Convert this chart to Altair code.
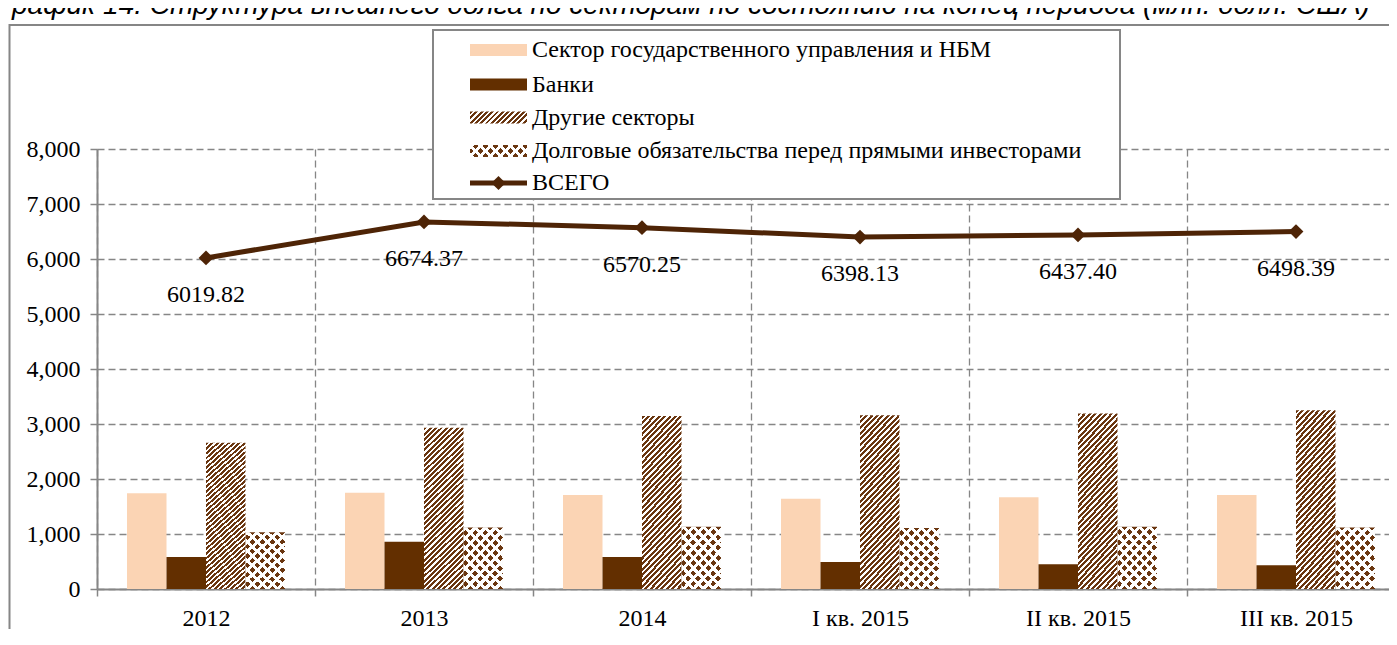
import altair as alt
import pandas as pd

# ---------------- data ----------------
categories = ["2012", "2013", "2014", "I кв. 2015", "II кв. 2015", "III кв. 2015"]
series = [
    "Сектор государственного управления и НБМ",
    "Банки",
    "Другие секторы",
    "Долговые обязательства перед прямыми инвесторами",
]
gov_nbm = [1740, 1750, 1710, 1640, 1670, 1710]
banks = [580, 860, 580, 490, 450, 430]
other_sectors = [2660, 2930, 3145, 3160, 3190, 3250]
fdi_debt = [1030, 1120, 1130, 1110, 1130, 1120]
total = [6019.82, 6674.37, 6570.25, 6398.13, 6437.40, 6498.39]
total_name = "ВСЕГО"
y_ticks = [0, 1000, 2000, 3000, 4000, 5000, 6000, 7000, 8000]
title_text = "График 14. Структура внешнего долга по секторам по состоянию на конец периода (млн. долл. США)"

# ---------------- style ----------------
LIGHT = "#FBD4B4"
DARK = "#632F00"
BROWN = "#6A3610"
LINE = "#4E2406"
GREY = "#868686"
SERIF = "Liberation Serif"
FS = 24

PLOT_W = 1292
PLOT_H = 440
X_RANGE = 1308


def stripes(w, h, period, c_on, c_off, frac, flip=False):
    n = max(1, round((w + h) / period))
    c = (w + h) / (w * w + h * h)
    gx, gy = c * w, c * h
    stops = []
    for k in range(n):
        a, b, e = k / n, (k + frac) / n, (k + 1) / n
        stops += [
            {"offset": round(a, 5), "color": c_on},
            {"offset": round(b, 5), "color": c_on},
            {"offset": round(b, 5), "color": c_off},
            {"offset": round(e, 5), "color": c_off},
        ]
    if flip:
        return {"gradient": "linear", "x1": 0, "y1": 1, "x2": round(gx, 4), "y2": round(1 - gy, 4), "stops": stops}
    return {"gradient": "linear", "x1": 0, "y1": 0, "x2": round(gx, 4), "y2": round(gy, 4), "stops": stops}


CLEAR = "rgba(255,255,255,0)"
hatch_bar = stripes(39.4, 165, 5.4, BROWN, "#ffffff", 0.55)
dots_a_bar = stripes(39.4, 60, 10, "#ffffff", CLEAR, 0.42)
dots_b_bar = stripes(39.4, 60, 10, "#ffffff", CLEAR, 0.42, flip=True)
hatch_leg = stripes(57, 12, 5.4, BROWN, "#ffffff", 0.55)
dots_a_leg = stripes(57, 12, 10, "#ffffff", CLEAR, 0.42)
dots_b_leg = stripes(57, 12, 10, "#ffffff", CLEAR, 0.42, flip=True)

x_axis = alt.Axis(
    title=None, tickBand="extent", grid=True, gridDash=[7, 4], gridColor=GREY, gridWidth=1.3,
    domainColor=GREY, domainWidth=2, tickColor=GREY, tickWidth=1.5, tickSize=7,
    labelFont=SERIF, labelFontSize=FS, labelColor="black", labelAngle=0, labelPadding=10,
)
y_axis = alt.Axis(
    title=None, values=y_ticks, format=",.0f", grid=True, gridDash=[7, 4], gridColor=GREY, gridWidth=1.3,
    domainColor=GREY, domainWidth=2, tickColor=GREY, tickWidth=1.5, tickSize=7,
    labelFont=SERIF, labelFontSize=FS, labelColor="black", labelPadding=10,
)
x_enc = alt.X(
    "cat:N",
    scale=alt.Scale(domain=categories, range=[0, X_RANGE], paddingInner=0, paddingOuter=0),
    axis=x_axis,
)
y_enc = alt.Y("value:Q", scale=alt.Scale(domain=[0, 8000], nice=False), axis=y_axis)
xo_enc = alt.XOffset("series:N", scale=alt.Scale(domain=series, paddingInner=0, paddingOuter=0.76))


def series_df(name, vals):
    return pd.DataFrame({"cat": categories, "series": [name] * len(categories), "value": vals})


one = pd.DataFrame({"k": [0]})

layers = []

# outer chart frame
layers.append(
    alt.Chart(one).mark_rect(fill="white", fillOpacity=0, stroke=GREY, strokeWidth=2).encode(
        x=alt.value(-87.5), x2=alt.value(1400), y=alt.value(-124), y2=alt.value(600)
    )
)

# bars
layers.append(alt.Chart(series_df(series[0], gov_nbm)).mark_bar(fill=LIGHT).encode(x=x_enc, xOffset=xo_enc, y=y_enc))
layers.append(alt.Chart(series_df(series[1], banks)).mark_bar(fill=DARK).encode(x=x_enc, xOffset=xo_enc, y=y_enc))
layers.append(alt.Chart(series_df(series[2], other_sectors)).mark_bar(fill=hatch_bar).encode(x=x_enc, xOffset=xo_enc, y=y_enc))
fdf = series_df(series[3], fdi_debt)
layers.append(alt.Chart(fdf).mark_bar(fill=BROWN).encode(x=x_enc, xOffset=xo_enc, y=y_enc))
layers.append(alt.Chart(fdf).mark_bar(fill=dots_a_bar).encode(x=x_enc, xOffset=xo_enc, y=y_enc))
layers.append(alt.Chart(fdf).mark_bar(fill=dots_b_bar).encode(x=x_enc, xOffset=xo_enc, y=y_enc))

# total line
tdf = pd.DataFrame({"cat": categories, "value": total})
layers.append(alt.Chart(tdf).mark_line(color=LINE, strokeWidth=5).encode(x=x_enc, y=y_enc))
layers.append(
    alt.Chart(tdf).mark_point(shape="diamond", filled=True, color=LINE, size=220, opacity=1).encode(x=x_enc, y=y_enc)
)
layers.append(
    alt.Chart(tdf).mark_text(font=SERIF, fontSize=FS, color="black", dy=37, baseline="middle").encode(
        x=x_enc, y=y_enc, text=alt.Text("value:Q", format=".2f")
    )
)

# legend box
layers.append(
    alt.Chart(one).mark_rect(fill="white", stroke=GREY, strokeWidth=2).encode(
        x=alt.value(336), x2=alt.value(1023), y=alt.value(-119), y2=alt.value(50)
    )
)
row_y = [-99, -64.5, -31.5, 2, 34]
sym_x0, sym_x1, txt_x = 373, 430, 435
sym_fills = [[LIGHT], [DARK], [hatch_leg], [BROWN, dots_a_leg, dots_b_leg]]
for ry, fills in zip(row_y[:4], sym_fills):
    for f in fills:
        layers.append(
            alt.Chart(one).mark_rect(fill=f).encode(
                x=alt.value(sym_x0), x2=alt.value(sym_x1), y=alt.value(ry - 6), y2=alt.value(ry + 6)
            )
        )
legend_labels = series + [total_name]
layers.append(
    alt.Chart(one).mark_rule(color=LINE, strokeWidth=5).encode(
        x=alt.value(sym_x0), x2=alt.value(sym_x1), y=alt.value(row_y[4])
    )
)
layers.append(
    alt.Chart(one).mark_point(shape="diamond", filled=True, color=LINE, size=200, opacity=1).encode(
        x=alt.value((sym_x0 + sym_x1) / 2), y=alt.value(row_y[4])
    )
)
for ry, lab in zip(row_y, legend_labels):
    layers.append(
        alt.Chart(one).mark_text(
            text=lab, font=SERIF, fontSize=FS, color="black", align="left", baseline="middle"
        ).encode(x=alt.value(txt_x), y=alt.value(ry))
    )

# clipped caption at the very top
layers.append(
    alt.Chart(one).mark_text(
        text=title_text, font="Liberation Sans", fontStyle="italic", fontSize=28, color="black",
        align="left", baseline="alphabetic",
    ).encode(x=alt.value(-99), y=alt.value(-135))
)

chart = (
    alt.layer(*layers)
    .properties(
        width=PLOT_W,
        height=PLOT_H,
        padding={"left": 89, "top": 141, "right": 0, "bottom": 40},
        autosize=alt.AutoSizeParams(type="none"),
    )
    .configure_view(stroke=None)
)

chart.save("out.html", embed_options={"renderer": "svg", "actions": False})
